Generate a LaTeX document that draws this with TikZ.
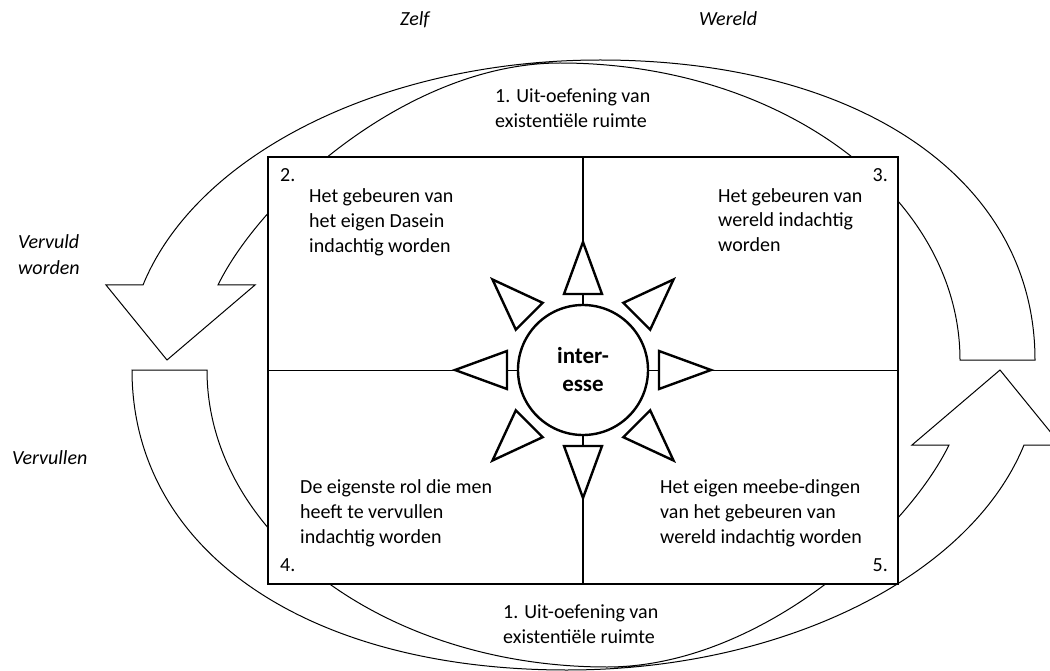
\documentclass[tikz,border=0pt]{standalone}
\usepackage{fontspec}
\setmainfont{Carlito}
\usetikzlibrary{calc}

\begin{document}
\begin{tikzpicture}[x=1pt, y=-1pt,
    band/.style={draw, fill=white, line width=1pt, line join=miter},
    quadbox/.style={draw, fill=white, line width=1.3pt, minimum width=630pt, minimum height=427pt, inner sep=0pt},
    cross/.style={line width=1.3pt},
    ray/.style={draw, fill=white, line width=2.4pt},
    core/.style={circle, draw, fill=white, line width=2.4pt, minimum size=130pt, inner sep=0pt,
        align=center, font=\fontsize{23}{28}\selectfont\bfseries},
    quadtext/.style={anchor=base west, inner sep=0pt, align=left, font=\fontsize{20}{25}\selectfont},
    sidetext/.style={quadtext, font=\fontsize{20}{26}\selectfont\itshape},
    ]
\useasboundingbox (0,0) rectangle (1050,671);
\fill[white] (0,0) rectangle (1050,671);
\clip (0,0) rectangle (1050,671);

\foreach \r in {0,180}
\draw[band, rotate around={\r:(583.5,365)}]
    (960,360) -- (1035,360) .. controls (1035,180) and (861,60) .. (600,60)
    .. controls (385,60) and (197,153) .. (143,285)
    -- (106,285) -- (167,360) -- (255,285) -- (218,285)
    .. controls (262,195) and (410,63) .. (560,63)
    .. controls (781,63) and (960,196) .. (960,360) -- cycle;

\node[quadbox] (quad) at (583,370.5) {};
\draw[cross] (quad.north) -- (quad.south);
\draw[cross] (quad.west) -- (quad.east);

\node[core] (core) at (583,370) {inter-\\esse};
\foreach \a in {0,45,...,315}
    \draw[ray, shift={(core.center)}, rotate=\a] (76,-19) -- (128,0) -- (76,19) -- cycle;

\node[quadtext] (n2) at (280,182) {2.};
\node[quadtext] (t2) at (309,253) {Het gebeuren van\\het eigen Dasein\\indachtig worden};
\node[quadtext, anchor=base east] (n3) at (888,182) {3.};
\node[quadtext] (t3) at (718,252) {Het gebeuren van\\wereld indachtig\\worden};
\node[quadtext] (t4) at (300,543) {De eigenste rol die men\\heeft te vervullen\\indachtig worden};
\node[quadtext] (n4) at (280,571) {4.};
\node[quadtext] (t5) at (660,543) {Het eigen meebe-dingen\\van het gebeuren van\\wereld indachtig worden};
\node[quadtext, anchor=base east] (n5) at (888,571) {5.};
\node[quadtext] (ruimteboven) at (495,128) {1. Uit-oefening van\\existentiële ruimte};
\node[quadtext] (ruimteonder) at (503,643) {1. Uit-oefening van\\existentiële ruimte};

\node[sidetext] (zelf) at (400,26) {Zelf};
\node[sidetext] (wereld) at (699,26) {Wereld};
\node[sidetext] (vervuld) at (18,275) {Vervuld\\worden};
\node[sidetext] (vervullen) at (12,464) {Vervullen};
\end{tikzpicture}
\end{document}
